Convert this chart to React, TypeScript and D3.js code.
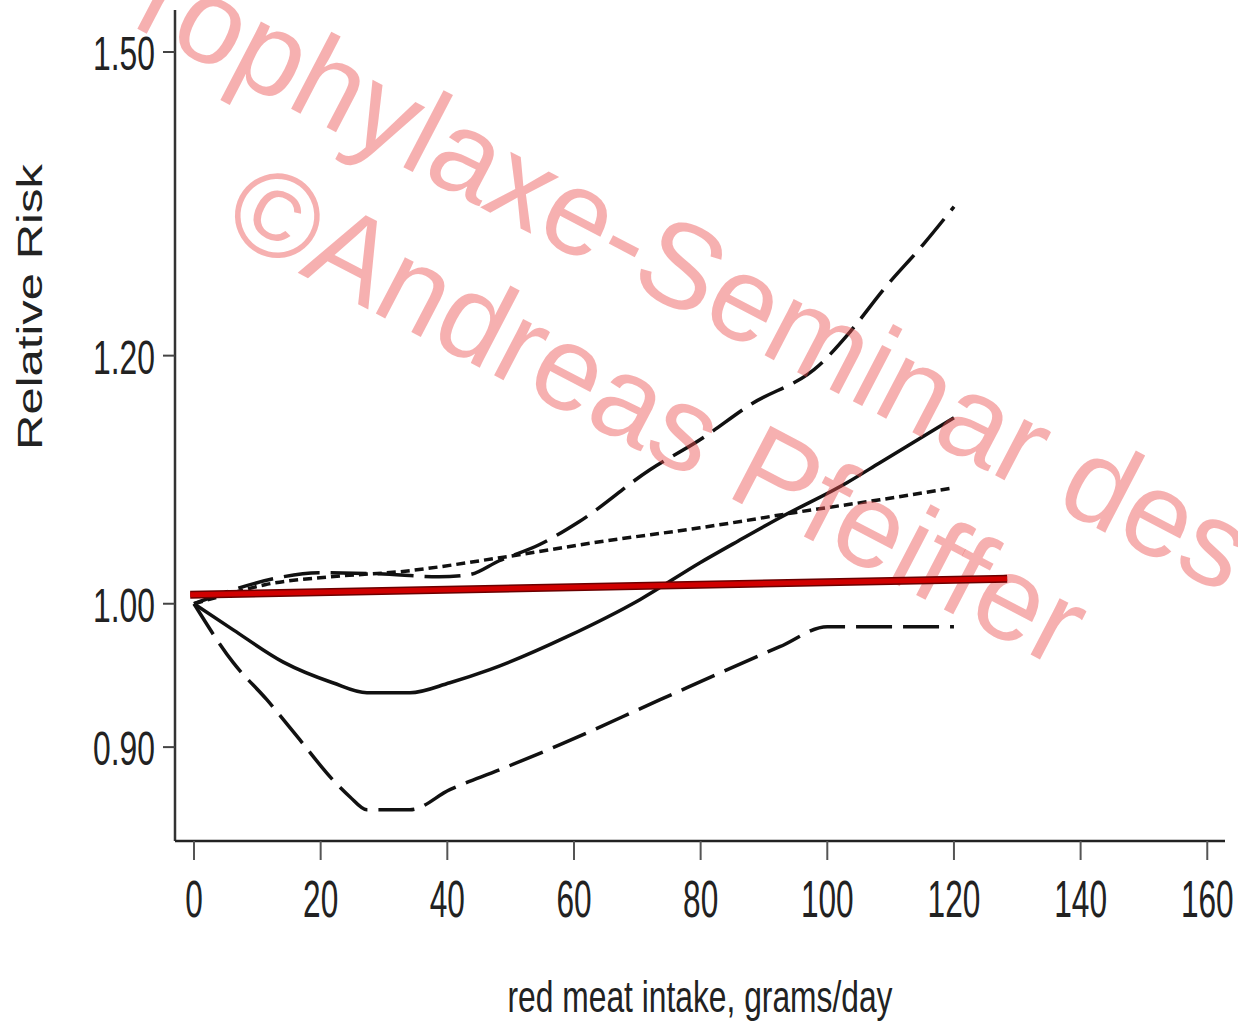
import * as d3 from "d3";

// axis ticks
const xTicks = [0, 20, 40, 60, 80, 100, 120, 140, 160];
const yTicks = [0.9, 1.0, 1.2, 1.5];
const yTickLabels = ["0.90", "1.00", "1.20", "1.50"];

// point estimate (solid)
const estX = [0, 6.2, 14.1, 21.9, 27.3, 34.1, 40.4, 46.7, 58.9, 70.4, 79.9, 86.0, 92.5, 103.1, 108.3, 113.5, 120];
const estY = [1.0, 0.981, 0.958, 0.9436, 0.9367, 0.9367, 0.9436, 0.9527, 0.9761, 1.003, 1.0306, 1.0474, 1.0652, 1.093, 1.1092, 1.1256, 1.1465];

// upper confidence limit (long dash)
const upX = [0, 6.2, 12.5, 19.7, 29.2, 38.7, 43.4, 48.2, 54.5, 60.8, 72.0, 79.9, 87.8, 98.8, 103.6, 109.1, 115.1, 120];
const upY = [1.0, 1.0103, 1.0185, 1.023, 1.0223, 1.02, 1.0215, 1.0321, 1.0443, 1.0621, 1.1035, 1.128, 1.1574, 1.192, 1.2212, 1.2613, 1.3018, 1.3388];

// lower confidence limit (long dash)
const loX = [0, 6.2, 11.5, 16.7, 21.9, 24.6, 27.3, 34.1, 40.4, 48.3, 57.8, 73.6, 92.5, 100, 120];
const loY = [1.0, 0.9576, 0.9319, 0.9049, 0.8787, 0.8678, 0.8595, 0.8595, 0.8723, 0.8852, 0.9016, 0.9319, 0.9689, 0.9832, 0.9832];

// linear model (short dash)
const linX = [0, 5.7, 11.2, 21.5, 32.5, 48.3, 64.1, 79.9, 97.7, 108.3, 120];
const linY = [1.0, 1.0074, 1.0141, 1.02, 1.0238, 1.0344, 1.0466, 1.0574, 1.0715, 1.0794, 1.089];

// red overlay line
const redX = [-0.6, 128.4];
const redY = [1.0066, 1.0185];

const W = 1238;
const H = 1021;
const font = "'Liberation Sans', Arial, sans-serif";

export default function App() {
    const x = d3.scaleLinear().domain([-3, 162.8]).range([175, 1225]);
    const y = d3.scaleLog().domain([0.84, 1.547]).range([841, 10]);

    const line = d3
        .line<[number, number]>()
        .x(d => x(d[0]))
        .y(d => y(d[1]))
        .curve(d3.curveMonotoneX);

    const pts = (xs: number[], ys: number[]) => xs.map((v, i) => [v, ys[i]] as [number, number]);

    const [x0, x1] = x.domain();
    const [y0, y1] = y.domain();

    return (
        <svg
            width={W}
            height={H}
            style={{ position: "absolute", left: 0, top: 0, background: "#fff" }}
            fontFamily={font}
        >
            <rect width={W} height={H} fill="#fff" />

            {/* axes */}
            <line x1={x(x0)} x2={x(x0)} y1={y(y1)} y2={y(y0)} stroke="#333" strokeWidth={2.5} />
            <line x1={x(x0)} x2={x(x1)} y1={y(y0)} y2={y(y0)} stroke="#222" strokeWidth={2.5} />

            {yTicks.map((t, i) => (
                <g key={t}>
                    <line x1={x(x0) - 12} x2={x(x0)} y1={y(t)} y2={y(t)} stroke="#444" strokeWidth={2} />
                    <text
                        transform={`translate(155,${y(t) + 18}) scale(0.65,1)`}
                        textAnchor="end"
                        fontSize={49}
                        fill="#222"
                    >
                        {yTickLabels[i]}
                    </text>
                </g>
            ))}

            {xTicks.map(t => (
                <g key={t}>
                    <line x1={x(t)} x2={x(t)} y1={y(y0)} y2={y(y0) + 19} stroke="#555" strokeWidth={2} />
                    <text
                        transform={`translate(${x(t)},917) scale(0.62,1)`}
                        textAnchor="middle"
                        fontSize={51}
                        fill="#222"
                    >
                        {t}
                    </text>
                </g>
            ))}

            <text
                x={700}
                y={1012}
                textAnchor="middle"
                fontSize={44}
                textLength={385}
                lengthAdjust="spacingAndGlyphs"
                fill="#222"
            >
                red meat intake, grams/day
            </text>

            <text
                transform="translate(42,307) scale(0.7,1) rotate(-90)"
                textAnchor="middle"
                fontSize={49}
                fill="#222"
            >
                Relative Risk
            </text>

            {/* curves */}
            <g fill="none" stroke="#111" strokeWidth={3.5}>
                <path d={line(pts(estX, estY)) || ""} />
                <path d={line(pts(upX, upY)) || ""} strokeDasharray="36,11" />
                <path d={line(pts(loX, loY)) || ""} strokeDasharray="36,11" />
                <path d={line(pts(linX, linY)) || ""} strokeDasharray="9,5" />
            </g>

            {/* watermark */}
            <g fill="rgba(235,80,80,0.45)" fontSize={120} fontFamily={font}>
                <text transform="translate(59,-12) rotate(27.5)">Prophylaxe-Seminar des</text>
                <text transform="translate(219,232) rotate(27.5)">©Andreas Pfeiffer</text>
            </g>

            {/* red line */}
            <path
                d={line(pts(redX, redY)) || ""}
                fill="none"
                stroke="#6a0000"
                strokeWidth={8}
            />
            <path
                d={line(pts(redX, redY)) || ""}
                fill="none"
                stroke="#d00000"
                strokeWidth={5}
            />
        </svg>
    );
}
